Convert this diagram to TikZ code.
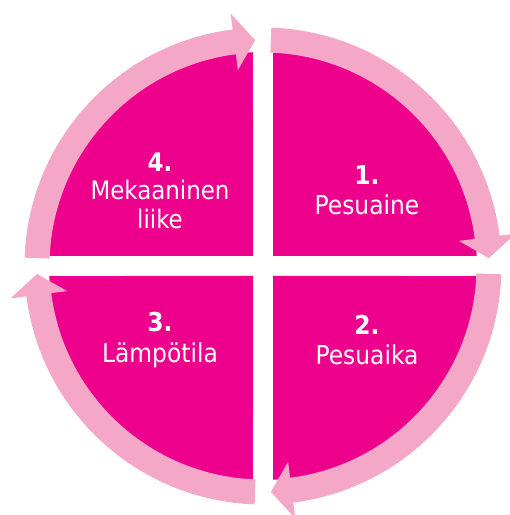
\documentclass[tikz,border=0pt]{standalone}
\usepackage{fontspec}
\setmainfont{DejaVu Sans Condensed}
\definecolor{mag}{HTML}{EC008C}
\definecolor{rose}{HTML}{F4A7C7}
\begin{document}
\begin{tikzpicture}[x=1pt,y=1pt,
  quad/.style={fill=mag},
  ring/.style={fill=rose},
  lbl/.style={text=white, align=center, inner sep=0pt},
  two/.style={font=\fontsize{26}{30.5}\selectfont},
  three/.style={font=\fontsize{25.5}{28.5}\selectfont}]
\useasboundingbox (0,0) rectangle (510,515);
\coordinate (c) at (263,249);
\foreach \r in {0,90,180,270} {
  \begin{scope}[shift={(c)}, rotate=\r]
    \fill[quad] (10pt,10pt) -- (2.68:214pt) arc[start angle=2.68,end angle=87.32,radius=214pt] -- cycle;
  \end{scope}
}
\foreach \r in {0,90,180,270} {
  \begin{scope}[shift={(c)}, rotate=\r]
    \fill[ring] (88:238.5pt) arc[start angle=88,end angle=7.3,radius=238.5pt]
      -- (7.3:254.5pt) -- (2:226pt) -- (7.3:197.5pt) -- (7.3:213.5pt)
      arc[start angle=7.3,end angle=88,radius=213.5pt] -- cycle;
  \end{scope}
}
\node[lbl,two] (t1) at (367,325) {\textbf{1.}\\Pesuaine};
\node[lbl,two] (t2) at (367,175) {\textbf{2.}\\Pesuaika};
\node[lbl,two] (t3) at (160,175) {\textbf{3.}\\Lämpötila};
\node[lbl,three] (t4) at (160,324.5) {\textbf{4.}\\Mekaaninen\\liike};
\end{tikzpicture}
\end{document}
